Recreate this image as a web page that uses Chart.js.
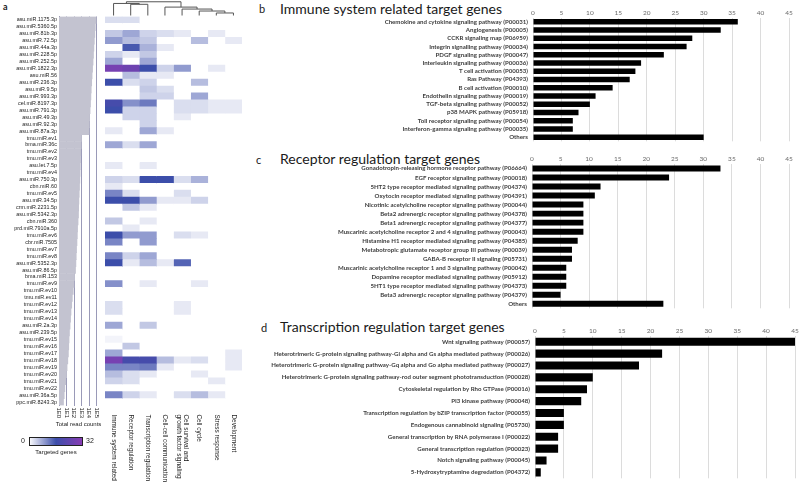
<!DOCTYPE html>
<html><head><meta charset="utf-8">
<script src="https://cdn.jsdelivr.net/npm/chart.js@4.4.0/dist/chart.umd.min.js"></script>
<style>
html,body{margin:0;padding:0;background:#fff;width:800px;height:487px;overflow:hidden;position:relative}
canvas{position:absolute}
.t{position:absolute;font-family:Lato,sans-serif;color:#1a1a1a;white-space:nowrap;line-height:1}
</style></head><body>
<div class="t" style="left:3px;top:2px;font-size:9px;font-weight:bold">a</div>
<div class="t" style="left:259px;top:3px;font-size:11px">b</div>
<div class="t" style="left:280px;top:2px;font-size:14px">Immune system related target genes</div>
<div class="t" style="left:256px;top:154px;font-size:11px">c</div>
<div class="t" style="left:280px;top:152px;font-size:14px">Receptor regulation target genes</div>
<div class="t" style="left:261px;top:322px;font-size:11px">d</div>
<div class="t" style="left:280px;top:320px;font-size:14px">Transcription regulation target genes</div>

<canvas id="cA1" width="105" height="487" style="left:0;top:0"></canvas>
<canvas id="cA2" width="150" height="487" style="left:100px;top:0"></canvas>
<canvas id="cB" width="560" height="150" style="left:240px;top:0"></canvas>
<canvas id="cC" width="560" height="167" style="left:240px;top:150px"></canvas>
<canvas id="cD" width="560" height="170" style="left:240px;top:317px"></canvas>

<script>
// ---------- Panel a data ----------
const mirnas = ['asu.miR.1175.3p','asu.miR.5360.5p','asu.miR.81b.3p','asu.miR.72.5p','asu.miR.44a.3p','asu.miR.228.5p','asu.miR.252.5p','asu.miR.1822.3p','asu.miR.56','asu.miR.236.3p',
'asu.miR.9.5p','asu.miR.993.3p','cel.miR.8197.3p','asu.miR.791.3p','asu.miR.49.3p','asu.miR.92.3p','asu.miR.87a.3p','tmu.miR.ev1','bma.miR.36c','tmu.miR.ev2',
'tmu.miR.ev3','asu.let.7.5p','tmu.miR.ev4','asu.miR.750.3p','cbn.miR.60','tmu.miR.ev5','asu.miR.34.5p','crm.miR.2231.5p','asu.miR.5342.3p','cbn.miR.360',
'prd.miR.7910a.5p','tmu.miR.ev6','cbr.miR.7505','tmu.miR.ev7','tmu.miR.ev8','asu.miR.5352.3p','asu.miR.86.5p','bma.miR.153','tmu.miR.ev9','tmu.miR.ev10',
'tmu.miR.ev11','tmu.miR.ev12','tmu.miR.ev13','tmu.miR.ev14','asu.miR.2a.3p','asu.miR.239.5p','tmu.miR.ev15','tmu.miR.ev16','tmu.miR.ev17','tmu.miR.ev18',
'tmu.miR.ev19','tmu.miR.ev20','tmu.miR.ev21','tmu.miR.ev22','asu.miR.36a.5p','ppc.miR.8243.3p'];
const readCounts = [100000,70000,60000,52000,45000,40000,35000,30000,26000,23000,
20000,18000,16000,14000,12000,11000,10000,1000,900,800,
750,700,650,600,550,500,450,420,400,350,
300,280,250,220,200,180,160,120,100,80,
60,50,40,35,30,25,22,20,18,15,
12,10,8,6,5,4];
const readTickValues = [1,10,100,1000,10000,100000];
const readTickLabels = ['1E0','1E1','1E2','1E3','1E4','1E5'];
const functionCategories = [['Immune system related'],['Receptor regulation'],['Transcription regulation'],['Cell-cell communication'],['Cell survival and','growth factor signaling'],['Cell cycle'],['Stress response'],['Development']];
const heatImmune = [3,0,5,9,0,4,8,28,0,16, 0,0,18,16,0,0,2,0,8,0, 0,2,0,4,2,11,16,0,0,5, 0,16,11,0,11,16,0,0,10,0, 0,3,3,0,8,0,1,0,8,28, 11,6,4,0,11,0];
const heatReceptor = [3,0,8,6,15,2,0,26,6,3, 0,0,10,4,4,0,0,0,3,0, 0,0,0,3,0,3,16,5,0,0, 2,9,0,0,4,2,0,0,0,0, 0,0,0,0,0,0,0,5,0,18, 11,3,3,0,4,0];
const heatTranscription = [0,0,4,5,7,5,8,16,2,4, 5,4,12,4,4,4,8,0,8,0, 0,2,0,16,0,0,9,2,0,2, 0,9,9,0,8,6,0,0,2,0, 0,0,0,0,5,0,0,0,0,18, 12,2,0,0,2,0];
const heatCellCell = [0,0,3,0,2,0,0,4,2,0, 3,4,0,0,0,0,2,0,0,0, 0,0,0,16,0,0,2,0,0,0, 0,0,0,0,0,2,0,0,0,0, 0,0,0,0,0,0,0,0,0,6, 2,0,0,0,0,0];
const heatSurvival = [0,0,2,0,0,0,0,9,0,0, 0,0,3,3,2,0,0,0,0,0, 0,0,0,3,0,3,2,0,0,0, 0,3,0,0,0,14,0,0,0,0, 0,2,2,0,0,0,0,0,0,2, 0,0,0,0,3,0];
const heatCellCycle = [0,0,0,6,0,0,0,0,0,6, 0,8,3,3,0,0,0,0,0,0, 0,0,0,7,0,0,4,0,0,0, 0,2,0,0,0,0,0,0,2,0, 0,0,0,0,0,0,0,0,0,3, 0,2,0,0,6,0];
const heatStress = [0,0,2,0,0,0,0,2,0,0, 0,0,2,2,0,0,0,0,0,0, 0,0,0,0,0,0,0,0,0,0, 0,0,0,0,0,0,0,0,0,0, 0,0,0,0,0,0,0,0,0,0, 0,0,2,0,2,0];
const heatDevelopment = [0,0,0,2,0,0,0,0,0,0, 0,0,2,2,0,0,0,0,0,0, 0,0,0,0,0,0,0,0,0,0, 0,0,0,0,0,0,0,0,0,0, 0,0,0,0,0,0,0,0,2,2, 2,0,0,0,0,0];
const heatMax = 32;
// dendrogram merges: [childA, childB, height]; leaves 0..7, merged nodes numbered 8..
const dendroMerges = [[1,2,0.80],[0,8,0.86],[6,7,0.18],[5,10,0.32],[4,11,0.46],[3,12,0.60],[9,13,0.98]];

// ---------- Panels b, c, d data ----------
const immuneLabels = ['Chemokine and cytokine signaling pathway (P00031)','Angiogenesis (P00005)','CCKR signaling map (P06959)','Integrin signalling pathway (P00034)','PDGF signaling pathway (P00047)','Interleukin signaling pathway (P00036)','T cell activation (P00053)','Ras Pathway (P04393)','B cell activation (P00010)','Endothelin signaling pathway (P00019)','TGF-beta signaling pathway (P00052)','p38 MAPK pathway (P05918)','Toll receptor signaling pathway (P00054)','Interferon-gamma signaling pathway (P00035)','Others'];
const immuneValues = [36,33,28,27,23,19,18,17,14,11,10,8,7,7,30];
const receptorLabels = ['Gonadotropin-releasing hormone receptor pathway (P06664)','EGF receptor signaling pathway (P00018)','5HT2 type receptor mediated signaling pathway (P04374)','Oxytocin receptor mediated signaling pathway (P04391)','Nicotinic acetylcholine receptor signaling pathway (P00044)','Beta2 adrenergic receptor signaling pathway (P04378)','Beta1 adrenergic receptor signaling pathway (P04377)','Muscarinic acetylcholine receptor 2 and 4 signaling pathway (P00043)','Histamine H1 receptor mediated signaling pathway (P04385)','Metabotropic glutamate receptor group III pathway (P00039)','GABA-B receptor II signaling (P05731)','Muscarinic acetylcholine receptor 1 and 3 signaling pathway (P00042)','Dopamine receptor mediated signaling pathway (P05912)','5HT1 type receptor mediated signaling pathway (P04373)','Beta3 adrenergic receptor signaling pathway (P04379)','Others'];
const receptorValues = [33,24,12,11,9,9,9,9,8,7,7,6,6,6,5,23];
const transcriptionLabels = ['Wnt signaling pathway (P00057)','Heterotrimeric G-protein signaling pathway-Gi alpha and Gs alpha mediated pathway (P00026)','Heterotrimeric G-protein signaling pathway-Gq alpha and Go alpha mediated pathway (P00027)','Heterotrimeric G-protein signaling pathway-rod outer segment phototransduction (P00028)','Cytoskeletal regulation by Rho GTPase (P00016)','PI3 kinase pathway (P00048)','Transcription regulation by bZIP transcription factor (P00055)','Endogenous cannabinoid signaling (P05730)','General transcription by RNA polymerase I (P00022)','General transcription regulation (P00023)','Notch signaling pathway (P00045)','5-Hydroxytryptamine degredation (P04372)'];
const transcriptionValues = [45,22,18,10,9,8,5,5,4,4,2,1];

// ---------- helpers ----------
const colorStops = [[0,[255,255,255]],[0.5,[60,78,170]],[1,[138,60,180]]];
function heatColor(v){
  const t = Math.max(0, Math.min(1, v/heatMax));
  for(let i=1;i<colorStops.length;i++){
    if(t<=colorStops[i][0]){
      const [t0,c0]=colorStops[i-1],[t1,c1]=colorStops[i];
      const f=(t-t0)/(t1-t0);
      return 'rgb('+c0.map((c,k)=>Math.round(c+(c1[k]-c)*f)).join(',')+')';
    }
  }
  return 'rgb('+colorStops[colorStops.length-1][1].join(',')+')';
}
const heatCols = [heatImmune,heatReceptor,heatTranscription,heatCellCell,heatSurvival,heatCellCycle,heatStress,heatDevelopment];
const A_TOP = 16.5, A_BOTTOM = 405.5;

// ---------- Panel a : total read counts ----------
const a1Plugin = {
  id:'a1extra',
  afterDraw(chart){
    const ctx = chart.ctx, x = chart.scales.x, b = chart.chartArea.bottom;
    ctx.save();
    ctx.fillStyle = '#222';
    ctx.font = '6px "Liberation Sans"';
    ctx.textBaseline = 'middle'; ctx.textAlign = 'left';
    readTickValues.forEach((v,i)=>{
      ctx.save(); ctx.translate(x.getPixelForValue(v), b+2); ctx.rotate(Math.PI/2);
      ctx.fillText(readTickLabels[i],0,0); ctx.restore();
    });
    ctx.textAlign = 'center';
    ctx.fillText('Total read counts', 78.5, 424.5);
    // colour legend
    const gx0=29, gx1=83, gy=437, gh=9;
    const g = ctx.createLinearGradient(gx0,0,gx1,0);
    colorStops.forEach(s=>g.addColorStop(s[0],'rgb('+s[1].join(',')+')'));
    ctx.fillStyle = g; ctx.fillRect(gx0,gy,gx1-gx0,gh);
    ctx.strokeStyle = '#222'; ctx.lineWidth = 1; ctx.strokeRect(gx0+0.5,gy+0.5,gx1-gx0-1,gh-1);
    ctx.fillStyle = '#222';
    ctx.font = '7px "Liberation Sans"';
    ctx.textAlign='right'; ctx.fillText('0', gx0-4, gy+gh/2);
    ctx.textAlign='left'; ctx.fillText(String(heatMax), gx1+3, gy+gh/2);
    ctx.font = '6px "Liberation Sans"';
    ctx.textAlign='center'; ctx.fillText('Targeted genes', (gx0+gx1)/2, gy+gh+6);
    ctx.restore();
  }
};
new Chart(document.getElementById('cA1'), {
  type:'bar',
  data:{labels:mirnas, datasets:[{data:readCounts, backgroundColor:'#c3c3d0', borderWidth:0, barPercentage:1, categoryPercentage:1}]},
  options:{
    indexAxis:'y', responsive:false, animation:false,
    layout:{padding:{top:A_TOP, bottom:487-A_BOTTOM, right:8.5, left:0}},
    plugins:{legend:{display:false}, tooltip:{enabled:false}},
    scales:{
      x:{type:'logarithmic', min:1, max:100000, z:1,
         afterBuildTicks:(s)=>{ s.ticks = readTickValues.map(v=>({value:v})); },
         ticks:{display:false}, grid:{drawTicks:false, color:'#9a9ab8', lineWidth:1}, border:{display:false}},
      y:{afterFit:(s)=>{ s.width = 59; },
         grid:{display:false, drawTicks:false}, border:{display:true, color:'#8a8aa8'},
         ticks:{autoSkip:false, font:{family:'Liberation Sans', size:5.4}, color:'#222', padding:2}}
    }
  },
  plugins:[a1Plugin]
});

// ---------- Panel a : heatmap ----------
const a2Plugin = {
  id:'a2extra',
  afterDraw(chart){
    const ctx = chart.ctx, x = chart.scales.x, ca = chart.chartArea;
    ctx.save();
    const nodes = functionCategories.map((c,j)=>({x:x.getPixelForValue(j+0.5), h:0}));
    const hy = h => ca.top - 1 - h*14;
    ctx.strokeStyle = '#555'; ctx.lineWidth = 1;
    dendroMerges.forEach(([a,b,h])=>{
      const A = nodes[a], B = nodes[b], y = hy(h);
      ctx.beginPath();
      ctx.moveTo(A.x, hy(A.h)); ctx.lineTo(A.x, y); ctx.lineTo(B.x, y); ctx.lineTo(B.x, hy(B.h));
      ctx.stroke();
      nodes.push({x:(A.x+B.x)/2, h:h});
    });
    ctx.fillStyle = '#222';
    ctx.font = '6.4px "Liberation Sans"';
    ctx.textAlign = 'left'; ctx.textBaseline = 'middle';
    functionCategories.forEach((lines,j)=>{
      ctx.save(); ctx.translate(x.getPixelForValue(j+0.5), ca.bottom+9); ctx.rotate(Math.PI/2);
      const off = (lines.length-1)*3.6;
      lines.forEach((ln,k)=>ctx.fillText(ln, 0, -off + k*7.2));
      ctx.restore();
    });
    ctx.restore();
  }
};
new Chart(document.getElementById('cA2'), {
  type:'bar',
  data:{labels:mirnas, datasets: heatCols.map((col,j)=>({
    label: functionCategories[j].join(' '),
    data: col.map((v,i)=>({y:mirnas[i], x:[j, j+1], v:v})),
    backgroundColor: (c)=> heatColor(c.raw ? c.raw.v : 0),
    borderWidth:0, barPercentage:1, categoryPercentage:1, grouped:false
  }))},
  options:{
    indexAxis:'y', responsive:false, animation:false,
    layout:{padding:{top:A_TOP, bottom:487-A_BOTTOM, left:5, right:8}},
    plugins:{legend:{display:false}, tooltip:{enabled:false}},
    scales:{
      x:{type:'linear', min:0, max:functionCategories.length, display:false},
      y:{display:false}
    }
  },
  plugins:[a2Plugin]
});

// ---------- Panels b, c, d ----------
function hbar(id, labels, values, yWidth, top, bottomPad, rightPad, barPct){
  return new Chart(document.getElementById(id), {
    type:'bar',
    data:{labels:labels, datasets:[{data:values, backgroundColor:'#000', borderWidth:0, barPercentage:barPct, categoryPercentage:1}]},
    options:{
      indexAxis:'y', responsive:false, animation:false,
      layout:{padding:{top:0, bottom:bottomPad, left:0, right:rightPad}},
      plugins:{legend:{display:false}, tooltip:{enabled:false}},
      scales:{
        x:{position:'top', min:0, max:45, afterFit:(s)=>{ s.height = top; },
           ticks:{stepSize:5, font:{family:'Lato', size:6.5}, color:'#6a6a6a', padding:1},
           grid:{drawTicks:false, color:'#dcdcdc', lineWidth:1}, border:{display:false}},
        y:{afterFit:(s)=>{ s.width = yWidth; },
           grid:{display:false, drawTicks:false}, border:{display:false},
           ticks:{autoSkip:false, font:{family:'Lato', size:6.1, weight:'bold'}, color:'#3c3c3c', padding:5}}
      }
    }
  });
}
hbar('cB', immuneLabels, immuneValues, 293, 17.7, 4.7, 11, 0.68);
hbar('cC', receptorLabels, receptorValues, 292, 14, 3, 11, 0.66);
hbar('cD', transcriptionLabels, transcriptionValues, 295, 18.8, 1.5, 5, 0.68);
</script>
</body></html>
